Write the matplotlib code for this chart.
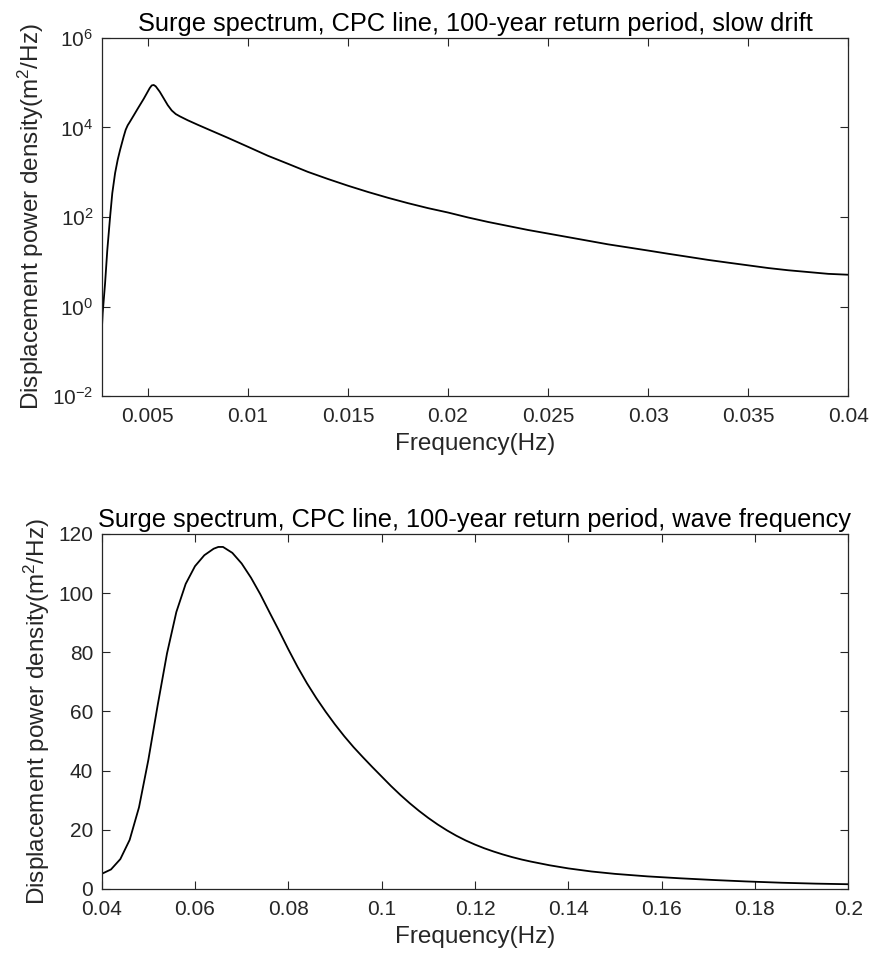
import numpy as np
import matplotlib
matplotlib.use('Agg')
import matplotlib.pyplot as plt
from matplotlib.ticker import NullLocator


# slow drift
freq_sd = [0.0027, 0.00275, 0.00287, 0.00298, 0.00312, 0.00323, 0.00337, 0.0035,
           0.00362, 0.0038, 0.0039, 0.0040, 0.0041, 0.0043, 0.0045, 0.0048,
           0.0050, 0.0051, 0.0052, 0.0053, 0.0054, 0.0056, 0.0058, 0.0060,
           0.0062, 0.0064, 0.0066, 0.0070, 0.0075, 0.00812, 0.009, 0.010,
           0.011, 0.012, 0.013, 0.014, 0.015, 0.016, 0.017, 0.018,
           0.019, 0.020, 0.021, 0.022, 0.023, 0.024, 0.025, 0.026,
           0.027, 0.028, 0.029, 0.030, 0.031, 0.032, 0.033, 0.034,
           0.035, 0.036, 0.037, 0.038, 0.039, 0.040]
psd_sd = [0.26, 0.71, 3.3, 18, 100, 340, 955, 1900,
          3160, 6300, 8910, 11200, 13200, 18600, 26300, 43700,
          63100, 75900, 87100, 89100, 83200, 63100, 44700, 31600,
          24000, 20000, 17800, 14500, 11500, 8710, 5890, 3720,
          2340, 1550, 1020, 708, 501, 363, 269, 204,
          158, 126, 97.7, 77.6, 63.1, 51.3, 42.7, 35.5,
          29.5, 24.5, 20.9, 17.8, 15.1, 12.9, 11.0, 9.55,
          8.32, 7.24, 6.46, 5.89, 5.37, 5.13]

# wave frequency
freq_wf = [0.040, 0.042, 0.044, 0.046, 0.048, 0.050, 0.052, 0.054, 0.056, 0.058,
           0.060, 0.062, 0.064, 0.065, 0.066, 0.068, 0.070, 0.072, 0.074, 0.076,
           0.078, 0.080, 0.082, 0.084, 0.086, 0.088, 0.090, 0.092, 0.094, 0.096,
           0.098, 0.100, 0.102, 0.104, 0.106, 0.108, 0.110, 0.112, 0.114, 0.116,
           0.118, 0.120, 0.122, 0.124, 0.126, 0.128, 0.130, 0.132, 0.136, 0.140,
           0.145, 0.150, 0.157, 0.164, 0.1715, 0.178, 0.1858, 0.193, 0.2]
psd_wf = [5.1, 6.6, 10.1, 16.6, 27.6, 43.6, 62.1, 79.6, 93.6, 103.1,
          109.1, 112.8, 115.0, 115.6, 115.6, 113.6, 110, 105.2, 99.6, 93.4,
          87.3, 81.0, 75.0, 69.5, 64.5, 59.9, 55.6, 51.6, 47.9, 44.5,
          41.2, 38.0, 34.8, 31.8, 29.0, 26.4, 24.0, 21.8, 19.8, 18.0,
          16.4, 15.0, 13.75, 12.65, 11.65, 10.75, 9.95, 9.25, 8.0, 6.95,
          5.9, 5.1, 4.25, 3.6, 3.0, 2.55, 2.1, 1.8, 1.6]

ticks_sd = [0.005, 0.01, 0.015, 0.02, 0.025, 0.03, 0.035, 0.04]
ticklabels_sd = ['0.005', '0.01', '0.015', '0.02', '0.025', '0.03', '0.035', '0.04']
ticks_wf = [0.04, 0.06, 0.08, 0.1, 0.12, 0.14, 0.16, 0.18, 0.2]
ticklabels_wf = ['0.04', '0.06', '0.08', '0.1', '0.12', '0.14', '0.16', '0.18', '0.2']
yticks_wf = [0, 20, 40, 60, 80, 100, 120]

plt.rcParams['font.family'] = ['Liberation Sans', 'DejaVu Sans']
plt.rcParams['mathtext.fontset'] = 'custom'
plt.rcParams['mathtext.rm'] = 'Liberation Sans'
plt.rcParams['mathtext.it'] = 'Liberation Sans'

axcol = '#262626'
ylab = 'Displacement power density(m$^2$/Hz)'

fig = plt.figure(figsize=(8.72, 9.69), dpi=100)
ax1 = fig.add_axes([0.1166, 0.5913, 0.8562, 0.3695])
ax2 = fig.add_axes([0.1166, 0.0826, 0.8562, 0.3664])

def style(ax):
    for s in ax.spines.values():
        s.set_color(axcol)
        s.set_linewidth(0.9)
    ax.tick_params(direction='in', top=True, right=True, length=5.5, width=0.8,
                   colors=axcol, labelsize=15)
    ax.tick_params(axis='x', pad=8)
    ax.tick_params(axis='y', pad=6)

# top plot
ax1.semilogy(freq_sd, psd_sd, color='k', lw=1.3)
ax1.set_xlim(0.0027, 0.04)
ax1.set_ylim(1e-2, 1e6)
ax1.set_yticks([1e-2, 1e0, 1e2, 1e4, 1e6])
ax1.yaxis.set_minor_locator(NullLocator())
ax1.set_xticks(ticks_sd)
ax1.set_xticklabels(ticklabels_sd)
ax1.set_title('Surge spectrum, CPC line, 100-year return period, slow drift',
              fontsize=18.3, pad=5)
ax1.set_xlabel('Frequency(Hz)', fontsize=17.5, color=axcol, labelpad=5)
ax1.set_ylabel(ylab, fontsize=17.5, color=axcol, labelpad=4.5)
style(ax1)

# bottom plot
ax2.plot(freq_wf, psd_wf, color='k', lw=1.3)
ax2.set_xlim(0.04, 0.2)
ax2.set_ylim(0, 120)
ax2.set_xticks(ticks_wf)
ax2.set_xticklabels(ticklabels_wf)
ax2.set_yticks(yticks_wf)
ax2.set_title('Surge spectrum, CPC line, 100-year return period, wave frequency',
              fontsize=18.3, pad=5)
ax2.set_xlabel('Frequency(Hz)', fontsize=17.5, color=axcol, labelpad=5)
ax2.set_ylabel(ylab, fontsize=17.5, color=axcol, labelpad=4.5)
style(ax2)

fig.align_ylabels([ax1, ax2])

fig.savefig('out.png', dpi=100)
